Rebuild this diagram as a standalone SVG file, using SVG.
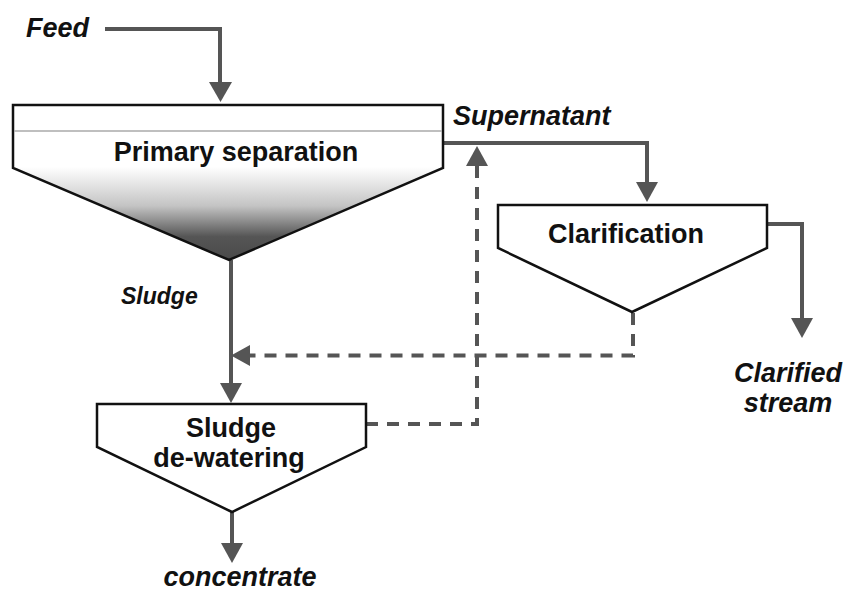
<svg xmlns="http://www.w3.org/2000/svg" width="845" height="593" viewBox="0 0 845 593">
<style>
.flow{fill:none;stroke:#555;stroke-width:4}
.dash{fill:none;stroke:#555;stroke-width:4;stroke-dasharray:12 9}
.node{stroke:#111;stroke-width:2.5;stroke-linejoin:miter}
.lbl{font-family:"Liberation Sans",Arial,sans-serif;font-weight:bold;font-size:27px;fill:#111;text-anchor:middle}
.it{font-family:"Liberation Sans",Arial,sans-serif;font-weight:bold;font-style:italic;font-size:27px;fill:#111}
</style>
<defs>
<linearGradient id="grad" x1="0" y1="105" x2="0" y2="260" gradientUnits="userSpaceOnUse">
<stop offset="0" stop-color="#fff"/>
<stop offset="0.4" stop-color="#fff"/>
<stop offset="0.65" stop-color="#c4c4c4"/>
<stop offset="0.85" stop-color="#555"/>
<stop offset="1" stop-color="#4a4a4a"/>
</linearGradient>
</defs>
<g id="connectors">
<path class="flow" d="M105,29 H220 V84"/>
<path d="M209,82 L232,82 L220.5,102 Z" fill="#555"/>
<path class="flow" d="M443,143 H647 V184"/>
<path d="M636,182 L658,182 L647,202 Z" fill="#555"/>
<path class="flow" d="M767,224 H802 V320"/>
<path d="M791,318 L813,318 L802,338 Z" fill="#555"/>
<path class="flow" d="M231,260 V385"/>
<path d="M220,383 L242,383 L231,403 Z" fill="#555"/>
<path class="flow" d="M232,512 V545"/>
<path d="M221,543 L243,543 L232,563 Z" fill="#555"/>
<path class="dash" d="M633,313 V355.5 H250"/>
<path d="M250,345 L250,366 L231,355.5 Z" fill="#555"/>
<path class="dash" d="M366,424 H477 V165"/>
<path d="M466,166 L488,166 L477,146 Z" fill="#555"/>
</g>
<g id="primary">
<path class="node" d="M13,105 H443 V168 L229,260 L13,168 Z" fill="url(#grad)"/>
<line x1="14" y1="131" x2="442" y2="131" stroke="#aaa" stroke-width="1.5"/>
<text class="lbl" x="236" y="161">Primary separation</text>
</g>
<g id="clarification">
<path class="node" d="M498,205 H767 V248 L632,312 L498,248 Z" fill="#fff"/>
<text class="lbl" x="626" y="243">Clarification</text>
</g>
<g id="dewatering">
<path class="node" d="M97,404 H366 V447 L232,512 L97,447 Z" fill="#fff"/>
<text class="lbl" x="231" y="437">Sludge</text>
<text class="lbl" x="229" y="467">de-watering</text>
</g>
<g id="labels">
<text class="it" x="26" y="37">Feed</text>
<text class="it" x="453" y="125">Supernatant</text>
<text class="it" x="121" y="304" style="font-size:23px">Sludge</text>
<text class="it" x="788" y="382" text-anchor="middle">Clarified</text>
<text class="it" x="788" y="412" text-anchor="middle">stream</text>
<text class="it" x="240" y="586" text-anchor="middle">concentrate</text>
</g>
</svg>
